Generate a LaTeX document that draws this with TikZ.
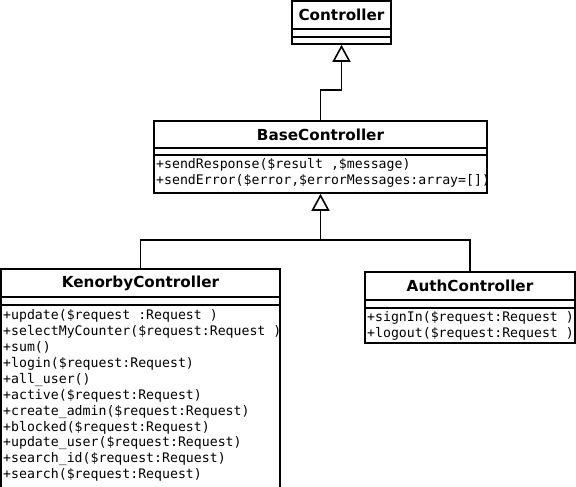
\documentclass[tikz,border=0pt]{standalone}
\usepackage{fontspec}
\setmainfont{DejaVu Sans}
\newfontfamily\monof{DejaVu Sans Mono}
\usetikzlibrary{arrows.meta}
\tikzset{
  comp/.style={draw, line width=1.6pt, rectangle, inner sep=0pt, minimum width=#1},
  hdr/.style={font=\fontsize{15.2}{18}\selectfont\bfseries},
  meths/.style={anchor=north west, inner sep=0pt, align=left, font=\monof\fontsize{13.2}{15.9}\selectfont},
  inh/.style={line width=1.6pt, -{Triangle[open, length=17pt, width=18pt]}},
  link/.style={line width=1.6pt}
}
\begin{document}
\begin{tikzpicture}[x=1pt, y=-1pt]
\useasboundingbox (0,0) rectangle (576,487);
% Controller
\node[comp=99pt, minimum height=28pt, hdr] (ctrlhead) at (341.5,15) {Controller};
\node[comp=99pt, minimum height=8pt] (ctrlattr) at (341.5,33) {};
\node[comp=99pt, minimum height=7pt] (ctrlmeth) at (341.5,40.5) {};
% BaseController
\node[comp=333pt, minimum height=27pt, hdr] (basehead) at (320.5,134.5) {BaseController};
\node[comp=333pt, minimum height=7pt] (baseattr) at (320.5,151.5) {};
\node[comp=333pt, minimum height=38pt] (basemeth) at (320.5,174) {};
\node[meths] (basetxt) at (156,158.5) {+sendResponse(\$result ,\$message)\\+sendError(\$error,\$errorMessages:array=[])};
% KenorbyController
\node[comp=279pt, minimum height=28pt, hdr] (kenhead) at (140.5,283) {KenorbyController};
\node[comp=279pt, minimum height=8pt] (kenattr) at (140.5,301) {};
\node[comp=279pt, minimum height=184pt] (kenmeth) at (140.5,397) {};
\node[meths] (kentxt) at (3,309.5) {+update(\$request :Request )\\+selectMyCounter(\$request:Request )\\+sum()\\+login(\$request:Request)\\+all\_user()\\+active(\$request:Request)\\+create\_admin(\$request:Request)\\+blocked(\$request:Request)\\+update\_user(\$request:Request)\\+search\_id(\$request:Request)\\+search(\$request:Request)};
% AuthController
\node[comp=210pt, minimum height=28pt, hdr] (authhead) at (470,286) {AuthController};
\node[comp=210pt, minimum height=8pt] (authattr) at (470,304) {};
\node[comp=210pt, minimum height=35pt] (authmeth) at (470,325.5) {};
\node[meths] (authtxt) at (367,311.5) {+signIn(\$request:Request )\\+logout(\$request:Request )};
% connectors
\coordinate (j0) at (341.5,90);
\coordinate (j1) at (320.5,240);
\draw[link] (basehead.north) |- (j0);
\draw[inh] (j0) -- (ctrlmeth.south);
\draw[link] (kenhead.north) |- (j1);
\draw[link] (authhead.north) |- (j1);
\draw[inh] (j1) -- (basemeth.south);
\end{tikzpicture}
\end{document}
